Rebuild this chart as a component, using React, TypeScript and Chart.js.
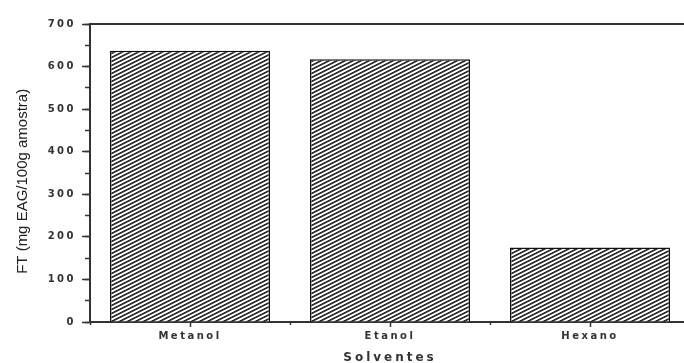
import React, { useEffect, useRef } from "react";
import { Chart, registerables } from "chart.js";

Chart.register(...registerables);

const categories: string[] = ["Metanol", "Etanol", "Hexano"];
const ftValues: number[] = [637, 617, 175];
const yMin = 0;
const yMax = 700;
const yMajorStep = 100;
const yMinorStep = 50;
const yTitle = "FT (mg EAG/100g amostra)";
const xTitle = "Solventes";

function makeHatch(): CanvasPattern | string {
  const tile = document.createElement("canvas");
  tile.width = 8;
  tile.height = 4;
  const c = tile.getContext("2d");
  if (!c) return "#777";
  const img = c.createImageData(8, 4);
  for (let y = 0; y < 4; y++) {
    for (let x = 0; x < 8; x++) {
      const v = (x + 2 * y) % 8;
      let g = 255;
      if (v < 3) g = 45;
      else if (v === 3 || v === 7) g = 165;
      const i = (y * 8 + x) * 4;
      img.data[i] = g;
      img.data[i + 1] = g;
      img.data[i + 2] = g;
      img.data[i + 3] = 255;
    }
  }
  c.putImageData(img, 0, 0);
  const main = document.createElement("canvas").getContext("2d");
  return (main && main.createPattern(tile, "repeat")) || "#777";
}

const spacingPlugin = {
  id: "letterSpacingPatch",
  afterLayout(chart: any) {
    const patch = (id: string, labelSp: string, titleSp: string) => {
      const s = chart.scales[id];
      if (!s || s.__patched) return;
      const oT = s.drawTitle.bind(s);
      const oL = s.drawLabels.bind(s);
      s.drawTitle = (...a: any[]) => {
        const c: any = s.ctx;
        c.letterSpacing = titleSp;
        oT(...a);
        c.letterSpacing = "0px";
      };
      s.drawLabels = (...a: any[]) => {
        const c: any = s.ctx;
        c.letterSpacing = labelSp;
        oL(...a);
        c.letterSpacing = "0px";
      };
      s.__patched = true;
    };
    patch("y", "2.5px", "0px");
    patch("x", "2.5px", "3px");
  },
};

export default function App() {
  const ref = useRef<HTMLCanvasElement | null>(null);
  useEffect(() => {
    if (!ref.current) return;
    const hatch = makeHatch();
    const zeroPad = (s: any) => {
      s.paddingLeft = 0;
      s.paddingRight = 0;
      s.paddingTop = 0;
      s.paddingBottom = 0;
    };
    const chart = new Chart(ref.current, {
      type: "bar",
      data: {
        labels: categories,
        datasets: [
          {
            data: ftValues,
            backgroundColor: hatch as any,
            borderColor: "#111",
            borderWidth: 1.5,
            barPercentage: 0.8,
            categoryPercentage: 1.0,
          },
        ],
      },
      plugins: [spacingPlugin],
      options: {
        responsive: false,
        animation: false,
        devicePixelRatio: 1,
        layout: { padding: { left: 0, top: 24, right: 10, bottom: 0 } },
        plugins: { legend: { display: false }, tooltip: { enabled: false } },
        scales: {
          y: {
            type: "linear",
            position: "left",
            weight: 1,
            min: yMin,
            max: yMax,
            ticks: {
              stepSize: yMajorStep,
              color: "#333",
              font: { family: "DejaVu Sans", size: 10, weight: "bold" },
              padding: 6,
            },
            grid: {
              drawOnChartArea: false,
              tickLength: 8,
              tickWidth: 1.5,
              tickColor: "#333",
            },
            border: { display: true, color: "#333", width: 2 },
            title: {
              display: true,
              text: yTitle + "\u00a0\u00a0\u00a0\u00a0",
              color: "#222",
              font: { family: "Liberation Sans", size: 15 },
              padding: { top: 14, bottom: 0 },
            },
            afterFit: (s: any) => {
              s.width = 90;
              zeroPad(s);
            },
          },
          yMinor: {
            type: "linear",
            position: "left",
            weight: 0,
            min: yMin,
            max: yMax,
            ticks: { stepSize: yMinorStep, display: false },
            grid: {
              drawOnChartArea: false,
              tickLength: 5,
              tickWidth: 1.5,
              tickColor: "#333",
            },
            border: { display: false },
            afterFit: (s: any) => {
              s.width = 0;
              zeroPad(s);
            },
          },
          x: {
            type: "category",
            position: "bottom",
            weight: 1,
            offset: true,
            ticks: {
              color: "#333",
              font: { family: "DejaVu Sans", size: 10, weight: "bold" },
              padding: 3,
              maxRotation: 0,
              autoSkip: false,
            },
            grid: {
              offset: false,
              drawOnChartArea: false,
              tickLength: 5,
              tickWidth: 1.5,
              tickColor: "#333",
            },
            border: { display: true, color: "#333", width: 2 },
            title: {
              display: true,
              text: xTitle,
              color: "#333",
              font: { family: "DejaVu Sans", size: 12, weight: "bold" },
              padding: { top: 0, bottom: 5 },
            },
            afterFit: (s: any) => {
              s.height = 48;
              zeroPad(s);
            },
          },
          xMinor: {
            type: "category",
            position: "bottom",
            weight: 0,
            offset: true,
            ticks: { display: false },
            grid: {
              offset: true,
              drawOnChartArea: false,
              tickLength: 3,
              tickWidth: 1.5,
              tickColor: "#333",
            },
            border: { display: false },
            afterFit: (s: any) => {
              s.height = 0;
              zeroPad(s);
            },
          },
          xTop: {
            type: "linear",
            position: "top",
            min: 0,
            max: 1,
            ticks: { display: false },
            grid: { drawOnChartArea: false, drawTicks: false },
            border: { display: true, color: "#333", width: 2 },
            afterFit: (s: any) => {
              s.height = 0;
              zeroPad(s);
            },
          },
        },
      } as any,
    });
    return () => chart.destroy();
  }, []);
  return (
    <div
      style={{
        position: "fixed",
        left: 0,
        top: 0,
        width: 684,
        height: 363,
        overflow: "hidden",
        background: "#fff",
      }}
    >
      <canvas ref={ref} width={700} height={370} style={{ display: "block", width: 700, height: 370 }} />
    </div>
  );
}
